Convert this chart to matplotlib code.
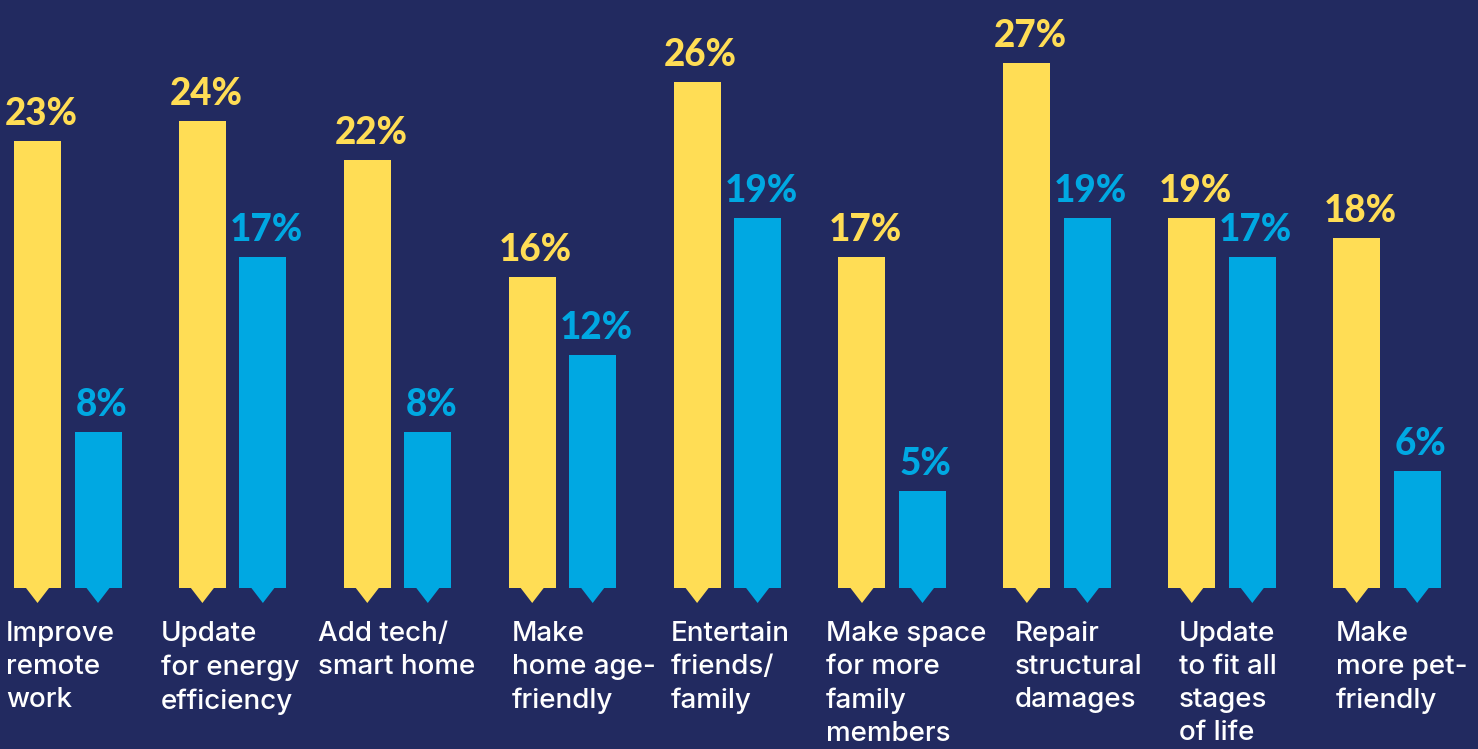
import matplotlib
matplotlib.use("Agg")
import matplotlib.pyplot as plt
from matplotlib.patches import Polygon

# Share of respondents per renovation motive (two survey groups)
categories = [
    "Improve\nremote\nwork",
    "Update\nfor energy\nefficiency",
    "Add tech/\nsmart home",
    "Make\nhome age-\nfriendly",
    "Entertain\nfriends/\nfamily",
    "Make space\nfor more\nfamily\nmembers",
    "Repair\nstructural\ndamages",
    "Update\nto fit all\nstages\nof life",
    "Make\nmore pet-\nfriendly",
]
series_yellow = [23, 24, 22, 16, 26, 17, 27, 19, 18]
series_blue = [8, 17, 8, 12, 19, 5, 19, 17, 6]

# Layout: left edge of each category label relative to its group centre
label_shift = [-0.374, -0.434, -0.482, -0.306, -0.342, -0.402, -0.256, -0.261, -0.309]

BG = "#222a60"
YELLOW = "#ffdd55"
BLUE = "#00a8e2"

W, H, DPI = 1478, 749, 100
fig = plt.figure(figsize=(W / DPI, H / DPI), dpi=DPI, facecolor=BG)
ax = fig.add_axes([0, 0, 1, 1])
ax.set_facecolor(BG)
ax.axis("off")

px_per_group = 164.9
px_per_unit = 19.45
base_px = 588
center0_px = 67.75
ax.set_xlim(-center0_px / px_per_group, (W - center0_px) / px_per_group)
ax.set_ylim(-(H - base_px) / px_per_unit, base_px / px_per_unit)

bar_w = 47 / px_per_group
offset = 30.25 / px_per_group
tri_half = 11.5 / px_per_group
tri_h = 15 / px_per_unit

xs = list(range(len(categories)))
for series, sign, color in ((series_yellow, -1, YELLOW), (series_blue, 1, BLUE)):
    pos = [x + sign * offset for x in xs]
    bars = ax.bar(pos, series, width=bar_w, color=color, linewidth=0)
    for p, v in zip(pos, series):
        ax.add_patch(Polygon([(p - tri_half, 0), (p + tri_half, 0), (p, -tri_h)],
                             closed=True, facecolor=color, edgecolor="none"))
        ax.annotate(f"{v}%", xy=(p, v), xytext=(2.5, 11.5), textcoords="offset points",
                    ha="center", va="baseline", color=color, fontsize=26.5,
                    fontfamily="Lato", fontweight="black")

for x, name, sh in zip(xs, categories, label_shift):
    ax.annotate(name, xy=(x + sh, 0), xytext=(0, -24), textcoords="offset points",
                ha="left", va="top", color="white", fontsize=20,
                fontfamily="Inter", fontweight="medium", linespacing=1.35)

fig.savefig("out.png", dpi=DPI, facecolor=BG)
